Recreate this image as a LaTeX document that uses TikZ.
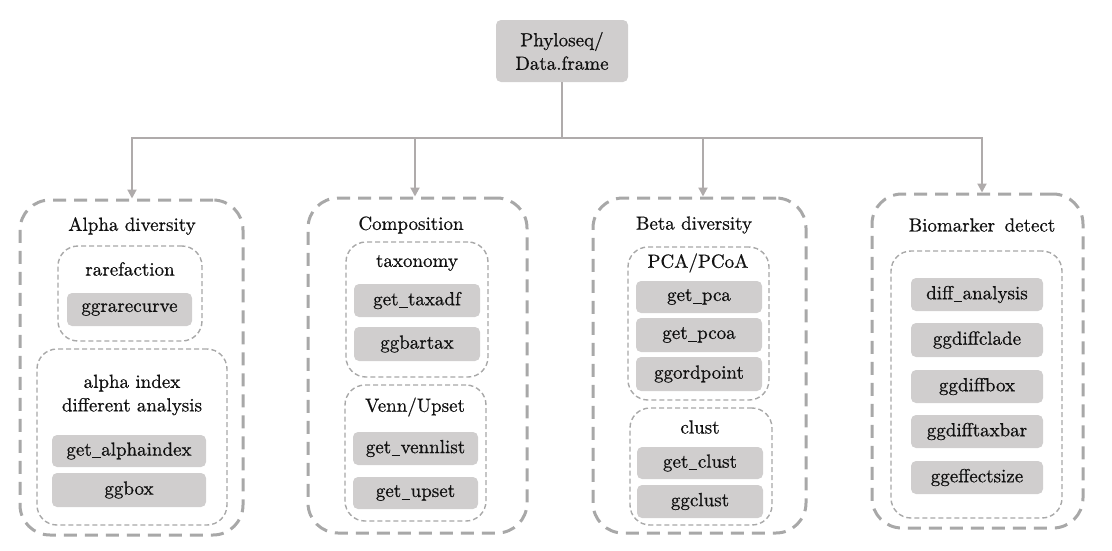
\documentclass[tikz,border=0pt]{standalone}
\usepackage{fontspec}
\newfontfamily\lmx{lmroman10-regular.otf}[FakeBold=0.7]
\usetikzlibrary{arrows.meta}
\definecolor{boxfill}{HTML}{D0CECE}
\definecolor{linegray}{HTML}{AFABAB}
\definecolor{dashgray}{HTML}{A8A8A8}
\definecolor{txt}{HTML}{111111}
\newcommand{\us}{\kern0.02em\rule[-2.6pt]{0.46em}{0.9pt}\kern0.02em}
\tikzset{
  every node/.style={font=\lmx\fontsize{19}{23.5}\selectfont, text=txt},
  gbox/.style={fill=boxfill, rounded corners=5pt, inner sep=0pt, align=center},
  outerbox/.style={draw=dashgray, line width=3pt, dash pattern=on 13pt off 8pt, rounded corners=30pt, inner sep=0pt},
  innerbox/.style={draw=dashgray, line width=1.4pt, dash pattern=on 5pt off 3pt, rounded corners=20pt, inner sep=0pt},
  lbl/.style={inner sep=0pt, align=center},
  conn/.style={draw=linegray, line width=2pt},
  arr/.style={conn, -{Triangle[length=9pt,width=9pt]}},
}
\begin{document}
\begin{tikzpicture}[x=1pt,y=-1pt]
\useasboundingbox (0,0) rectangle (1112,550);

% root
\node[gbox, minimum width=132pt, minimum height=62pt] (root) at (562,51) {Phyloseq/\\Data.frame};

% Alpha diversity
\node[outerbox, minimum width=223pt, minimum height=335pt] (alpha) at (131.5,367.5) {};
\node[lbl] (alphat) at (132,226) {Alpha diversity};
\node[innerbox, minimum width=144pt, minimum height=95pt] (rare) at (130,293.5) {};
\node[lbl] (raret) at (130,269) {rarefaction};
\node[gbox, minimum width=125pt, minimum height=33pt] (ggrare) at (129.5,309.5) {ggrarecurve};
\node[innerbox, minimum width=190pt, minimum height=176pt] (aidx) at (132,437) {};
\node[lbl] (aidxt) at (132,395) {alpha index\\different analysis};
\node[gbox, minimum width=154pt, minimum height=32pt] (getai) at (129,451) {get\us alphaindex};
\node[gbox, minimum width=154pt, minimum height=34pt] (ggbox) at (129,490) {ggbox};

% Composition
\node[outerbox, minimum width=219pt, minimum height=335pt] (comp) at (417.5,365.5) {};
\node[lbl] (compt) at (411,225) {Composition};
\node[innerbox, minimum width=142pt, minimum height=135pt] (tax) at (417,309.5) {};
\node[lbl] (taxt) at (417,263) {taxonomy};
\node[gbox, minimum width=126pt, minimum height=33pt] (gettax) at (417,300.5) {get\us taxadf};
\node[gbox, minimum width=126pt, minimum height=34pt] (ggbar) at (417,344) {ggbartax};
\node[innerbox, minimum width=141pt, minimum height=136pt] (venn) at (415.5,453) {};
\node[lbl] (vennt) at (415,407) {Venn/Upset};
\node[gbox, minimum width=125pt, minimum height=33pt] (getvenn) at (415.5,448.5) {get\us vennlist};
\node[gbox, minimum width=125pt, minimum height=32pt] (getup) at (415.5,493) {get\us upset};

% Beta diversity
\node[outerbox, minimum width=213pt, minimum height=335pt] (beta) at (699.5,365.5) {};
\node[lbl] (betat) at (694,225) {Beta diversity};
\node[innerbox, minimum width=141pt, minimum height=153pt] (pca) at (698.5,323.5) {};
\node[lbl] (pcat) at (698,263) {PCA/PCoA};
\node[gbox, minimum width=126pt, minimum height=32pt] (getpca) at (699,297) {get\us pca};
\node[gbox, minimum width=126pt, minimum height=34pt] (getpcoa) at (699,335) {get\us pcoa};
\node[gbox, minimum width=126pt, minimum height=34pt] (ggord) at (699,374) {ggordpoint};
\node[innerbox, minimum width=142pt, minimum height=117pt] (clust) at (701,466.5) {};
\node[lbl] (clustt) at (700,427) {clust};
\node[gbox, minimum width=126pt, minimum height=32pt] (getclust) at (700,463) {get\us clust};
\node[gbox, minimum width=126pt, minimum height=33pt] (ggclust) at (700,501.5) {ggclust};

% Biomarker detect
\node[outerbox, minimum width=211pt, minimum height=334pt] (bio) at (977.5,361) {};
\node[lbl] (biot) at (982,225) {Biomarker\ \,detect};
\node[innerbox, minimum width=171pt, minimum height=267pt] (bioin) at (976.5,384.5) {};
\node[gbox, minimum width=132pt, minimum height=33pt] (diff) at (977,294.5) {diff\us analysis};
\node[gbox, minimum width=132pt, minimum height=34pt] (clade) at (977,340) {ggdiffclade};
\node[gbox, minimum width=132pt, minimum height=33pt] (dbox) at (977,386.5) {ggdiffbox};
\node[gbox, minimum width=132pt, minimum height=33pt] (dtax) at (977,431.5) {ggdifftaxbar};
\node[gbox, minimum width=132pt, minimum height=33pt] (eff) at (977,477.5) {ggeffectsize};

% connectors
\coordinate (hub) at (562,138);
\coordinate (ja) at (132,138);
\coordinate (jc) at (415,138);
\coordinate (jb) at (703,138);
\coordinate (jd) at (982,138);
\draw[conn] (root.south) -- (hub);
\draw[conn, line cap=rect] (ja) -- (jd);
\draw[arr] (ja) -- (ja |- alpha.north);
\draw[arr] (jc) -- (jc |- comp.north);
\draw[arr] (jb) -- (jb |- beta.north);
\draw[arr] (jd) -- (jd |- bio.north);
\end{tikzpicture}
\end{document}
